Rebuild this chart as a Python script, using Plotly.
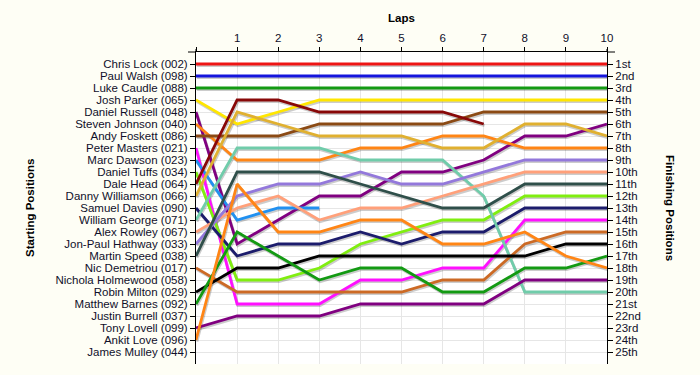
import plotly.graph_objects as go

laps = list(range(0, 11))

drivers = ["Chris Lock (002)", "Paul Walsh (098)", "Luke Caudle (088)", "Josh Parker (065)",
           "Daniel Russell (048)", "Steven Johnson (040)", "Andy Foskett (086)", "Peter Masters (021)",
           "Marc Dawson (023)", "Daniel Tuffs (034)", "Dale Head (064)", "Danny Williamson (066)",
           "Samuel Davies (090)", "William George (071)", "Alex Rowley (067)", "Jon-Paul Hathway (033)",
           "Martin Speed (038)", "Nic Demetriou (017)", "Nichola Holmewood (058)", "Robin Milton (029)",
           "Matthew Barnes (092)", "Justin Burrell (037)", "Tony Lovell (099)", "Ankit Love (096)",
           "James Mulley (044)"]

finish_labels = ["1st", "2nd", "3rd", "4th", "5th", "6th", "7th", "8th", "9th", "10th", "11th", "12th",
                 "13th", "14th", "15th", "16th", "17th", "18th", "19th", "20th", "21st", "22nd", "23rd",
                 "24th", "25th"]

N = None
chris_lock = [1, 1, 1, 1, 1, 1, 1, 1, 1, 1, 1]
paul_walsh = [2, 2, 2, 2, 2, 2, 2, 2, 2, 2, 2]
luke_caudle = [3, 3, 3, 3, 3, 3, 3, 3, 3, 3, 3]
josh_parker = [4, 6, 5, 4, 4, 4, 4, 4, 4, 4, 4]
daniel_russell = [5, 16, 14, 12, 12, 10, 10, 9, 7, 7, 6]
steven_johnson = [6, 9, 9, 9, 8, 8, 7, 7, 8, 8, 8]
andy_foskett = [7, 7, 7, 6, 6, 6, 6, 5, 5, 5, 5]
peter_masters = [8, 21, 21, 21, 19, 19, 18, 18, 14, 14, 14]
marc_dawson = [9, 14, 13, 13, N, N, N, N, N, N, N]
daniel_tuffs = [10, 19, 19, 18, 16, 15, 14, 14, 12, 12, 12]
dale_head = [11, 4, 4, 5, 5, 5, 5, 6, N, N, N]
danny_williamson = [12, 5, 6, 7, 7, 7, 8, 8, 6, 6, 7]
samuel_davies = [13, 17, 16, 16, 15, 16, 15, 15, 13, 13, 13]
william_george = [14, 8, 8, 8, 9, 9, 9, 12, 20, 20, 20]
alex_rowley = [15, 13, 12, 14, 13, 13, 12, 11, 10, 10, 10]
jon_paul_hathway = [16, 12, 11, 11, 10, 11, 11, 10, 9, 9, 9]
martin_speed = [17, 10, 10, 10, 11, 12, 13, 13, 11, 11, 11]
nic_demetriou = [18, 20, 20, 20, 20, 20, 19, 19, 16, 15, 15]
robin_milton = [20, 18, 18, 17, 17, 17, 17, 17, 17, 16, 16]
matthew_barnes = [21, 15, 17, 19, 18, 18, 20, 20, 18, 18, 17]
tony_lovell = [23, 22, 22, 22, 21, 21, 21, 21, 19, 19, 19]
ankit_love = [24, 11, 15, 15, 14, 14, 16, 16, 15, 17, 18]

series = [
    ("Chris Lock (002)", chris_lock, "#EE1515"),
    ("Paul Walsh (098)", paul_walsh, "#1515DD"),
    ("Luke Caudle (088)", luke_caudle, "#139A13"),
    ("Josh Parker (065)", josh_parker, "#FFE600"),
    ("Daniel Russell (048)", daniel_russell, "#800080"),
    ("Steven Johnson (040)", steven_johnson, "#FF8515"),
    ("Andy Foskett (086)", andy_foskett, "#8B4A14"),
    ("Peter Masters (021)", peter_masters, "#FF10FF"),
    ("Marc Dawson (023)", marc_dawson, "#2090F0"),
    ("Daniel Tuffs (034)", daniel_tuffs, "#80EE10"),
    ("Dale Head (064)", dale_head, "#880808"),
    ("Danny Williamson (066)", danny_williamson, "#E0B030"),
    ("Samuel Davies (090)", samuel_davies, "#1C1C6C"),
    ("William George (071)", william_george, "#70CCAA"),
    ("Alex Rowley (067)", alex_rowley, "#FFA07A"),
    ("Jon-Paul Hathway (033)", jon_paul_hathway, "#9378DB"),
    ("Martin Speed (038)", martin_speed, "#2F4F4A"),
    ("Nic Demetriou (017)", nic_demetriou, "#CC6A25"),
    ("Robin Milton (029)", robin_milton, "#000000"),
    ("Matthew Barnes (092)", matthew_barnes, "#139A13"),
    ("Tony Lovell (099)", tony_lovell, "#800080"),
    ("Ankit Love (096)", ankit_love, "#FF8515"),
]

fig = go.Figure()

# soft shadows under lines
for name, pos, col in series:
    fig.add_trace(go.Scatter(
        x=[l + 0.02 for l in laps],
        y=[p + 0.13 if p is not None else None for p in pos],
        mode="lines", line=dict(color="rgba(0,0,0,0.2)", width=3),
        hoverinfo="skip", showlegend=False))

for name, pos, col in series:
    fig.add_trace(go.Scatter(
        x=laps, y=pos, mode="lines", name=name,
        line=dict(color=col, width=2.8), showlegend=False))

# invisible trace to activate the right axis
fig.add_trace(go.Scatter(x=[laps[-1]], y=[1], yaxis="y2", mode="markers",
                         marker=dict(opacity=0), hoverinfo="skip", showlegend=False))

font_fam = "Liberation Sans, Arial, sans-serif"
tick_font = dict(family=font_fam, size=11.5, color="#10102A")
positions = list(range(1, 26))

fig.update_layout(
    width=700, height=375,
    margin=dict(l=196, r=93, t=52, b=11, autoexpand=False),
    paper_bgcolor="#FEFEF5",
    plot_bgcolor="#FFFFFF",
    xaxis=dict(
        side="top", range=[0, 10], tickvals=laps, automargin=False,
        ticktext=[""] + [str(l) for l in laps[1:]],
        ticks="outside", ticklen=4, tickcolor="#000", tickfont=tick_font,
        showline=True, linecolor="#000", linewidth=1,
        showgrid=True, gridcolor="#E6E6E6", gridwidth=1, zeroline=False,
    ),
    yaxis=dict(
        range=[26, 0], tickvals=positions, ticktext=drivers, automargin=False,
        ticks="outside", ticklen=5, tickcolor="#000", tickfont=tick_font,
        showline=True, linecolor="#000", linewidth=1,
        showgrid=True, gridcolor="#E6E6E6", gridwidth=1, zeroline=False,
    ),
    yaxis2=dict(
        range=[26, 0], overlaying="y", side="right", tickvals=positions, automargin=False,
        ticktext=finish_labels, ticks="outside", ticklen=5, tickcolor="#000",
        tickfont=tick_font, showline=True, linecolor="#000", linewidth=1,
        showgrid=False, zeroline=False,
    ),
    annotations=[
        dict(text="<b>Laps</b>", xref="paper", yref="paper", x=0.5, y=1, yshift=34,
             yanchor="middle", showarrow=False,
             font=dict(family=font_fam, size=11.5, color="#000")),
        dict(text="<b>Starting Positions</b>", xref="paper", yref="paper", x=0, xshift=-166,
             xanchor="center", y=0.5, showarrow=False, textangle=-90,
             font=dict(family=font_fam, size=11.5, color="#000")),
        dict(text="<b>Finishing Positions</b>", xref="paper", yref="paper", x=1, xshift=63,
             xanchor="center", y=0.5, showarrow=False, textangle=90,
             font=dict(family=font_fam, size=11.5, color="#000")),
    ],
    shapes=[
        dict(type="line", xref="paper", yref="paper", xsizemode="pixel", xanchor=0,
             x0=-8, x1=0, y0=1, y1=1, line=dict(color="#000", width=1)),
        dict(type="line", xref="paper", yref="paper", xsizemode="pixel", xanchor=1,
             x0=0, x1=8, y0=1, y1=1, line=dict(color="#000", width=1)),
        dict(type="line", xref="paper", yref="paper", ysizemode="pixel", yanchor=1,
             x0=0, x1=0, y0=0, y1=3, line=dict(color="#000", width=1)),
        dict(type="line", xref="paper", yref="paper", ysizemode="pixel", yanchor=1,
             x0=1, x1=1, y0=0, y1=3, line=dict(color="#000", width=1)),
    ],
)

fig.write_html("out.html", config={"displayModeBar": False},
               post_script="document.body.style.margin='0';document.body.style.background='#FEFEF5';")
